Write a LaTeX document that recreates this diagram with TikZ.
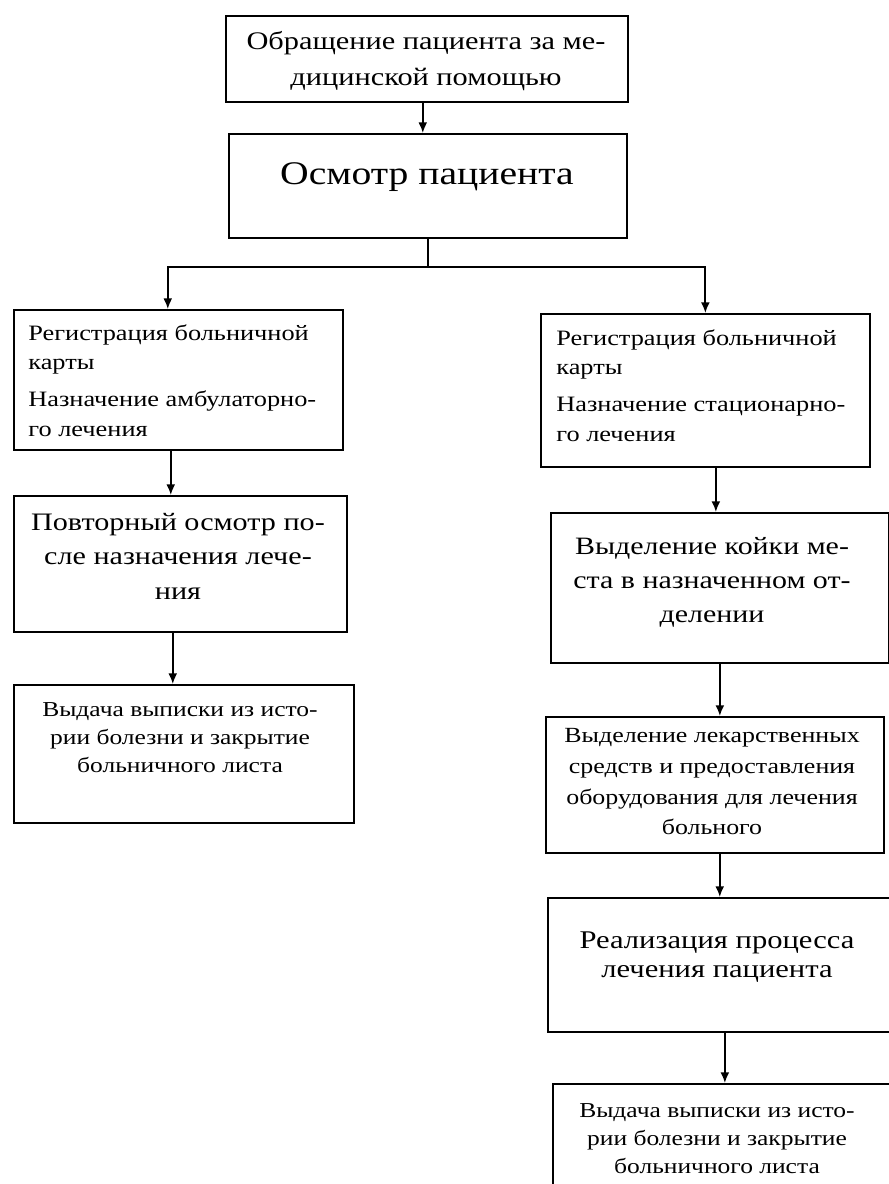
\documentclass[tikz,border=0pt]{standalone}
\usepackage{fontspec}
\setmainfont[FakeStretch=1.2]{Liberation Serif}
\usetikzlibrary{arrows.meta,positioning}

\newcommand{\fs}[2]{\fontsize{#1}{#2}\selectfont}
\tikzset{
  blok/.style={draw, line width=1pt, anchor=north west, inner sep=0pt},
  txt/.style={anchor=north, inner sep=0pt, align=center},
  arr/.style={-{Latex[length=6pt,width=5pt]}, line width=1pt},
  lin/.style={line width=1pt}
}

\begin{document}
\begin{tikzpicture}[x=0.02cm,y=-0.02cm]
\clip (0,0) rectangle (889,1184);
\fill[white] (0,0) rectangle (889,1184);
% блоки
\node[blok, minimum width=8.04cm, minimum height=1.72cm] (obr) at (225,15) {};
\node[blok, minimum width=7.96cm, minimum height=2.08cm] (osm) at (228,133) {};
\node[blok, minimum width=6.58cm, minimum height=2.80cm] (regA) at (13,309) {};
\node[blok, minimum width=6.66cm, minimum height=2.72cm] (povt) at (13,495) {};
\node[blok, minimum width=6.80cm, minimum height=2.76cm] (vydA) at (13,684) {};
\node[blok, minimum width=6.58cm, minimum height=3.06cm] (regS) at (540,313) {};
\node[blok, minimum width=6.76cm, minimum height=3.00cm] (kojka) at (550,512) {};
\node[blok, minimum width=6.76cm, minimum height=2.72cm] (lek) at (545,716) {};
\node[blok, minimum width=7.20cm, minimum height=2.68cm] (real) at (547,897) {};
\node[blok, minimum width=7.20cm, minimum height=2.60cm] (vydS) at (552,1083) {};
% тексты
\node[txt, font=\fs{14.4}{20.5}] (obr-t) at (426,31) {Обращение пациента за ме-\\дицинской помощью};
\node[txt, font=\fs{18.8}{24}] (osm-t) at (427,162) {Осмотр пациента};
\node[txt, anchor=north west, align=left, font=\fs{12.5}{17}] (regA-t) at (28,324) {Регистрация больничной\\карты\\[4pt]Назначение амбулаторно-\\го лечения};
\node[txt, font=\fs{14.3}{19.5}] (povt-t) at (178,513) {Повторный осмотр по-\\сле назначения лече-\\ния};
\node[txt, font=\fs{12.1}{16}] (vydA-t) at (180,702) {Выдача выписки из исто-\\рии болезни и закрытие\\больничного листа};
\node[txt, anchor=north west, align=left, font=\fs{12.5}{17}] (regS-t) at (556,329) {Регистрация больничной\\карты\\[4pt]Назначение стационарно-\\го лечения};
\node[txt, font=\fs{14.2}{19.5}] (kojka-t) at (712,537) {Выделение койки ме-\\ста в назначенном от-\\делении};
\node[txt, font=\fs{12.3}{17.5}] (lek-t) at (712,728) {Выделение лекарственных\\средств и предоставления\\оборудования для лечения\\больного};
\node[txt, font=\fs{14.5}{17}] (real-t) at (717,931) {Реализация процесса\\лечения пациента};
\node[txt, font=\fs{12.1}{16}] (vydS-t) at (717,1103) {Выдача выписки из исто-\\рии болезни и закрытие\\больничного листа};
% стрелки
\draw[arr] ([xshift=-2.3pt]obr.south) -- ([xshift=-2.3pt]obr.south |- osm.north);
\draw[lin] (osm.south) -- ++(0,28) coordinate (razv);
\draw[arr] (razv) -| ([xshift=-6pt]regA.north);
\draw[arr] (razv) -| (regS.north);
\draw[arr] ([xshift=-4.3pt]regA.south) -- ([xshift=-4.3pt]regA.south |- povt.north);
\draw[arr] ([xshift=-4.3pt]povt.south) -- ([xshift=-4.3pt]povt.south |- vydA.north);
\draw[arr] ([xshift=6pt]regS.south) -- ([xshift=6pt]regS.south |- kojka.north);
\draw[arr] (kojka.south) -- (kojka.south |- lek.north);
\draw[arr] ([xshift=2.8pt]lek.south) -- ([xshift=2.8pt]lek.south |- real.north);
\draw[arr] ([xshift=-1.7pt]real.south) -- ([xshift=-1.7pt]real.south |- vydS.north);
\end{tikzpicture}
\end{document}
